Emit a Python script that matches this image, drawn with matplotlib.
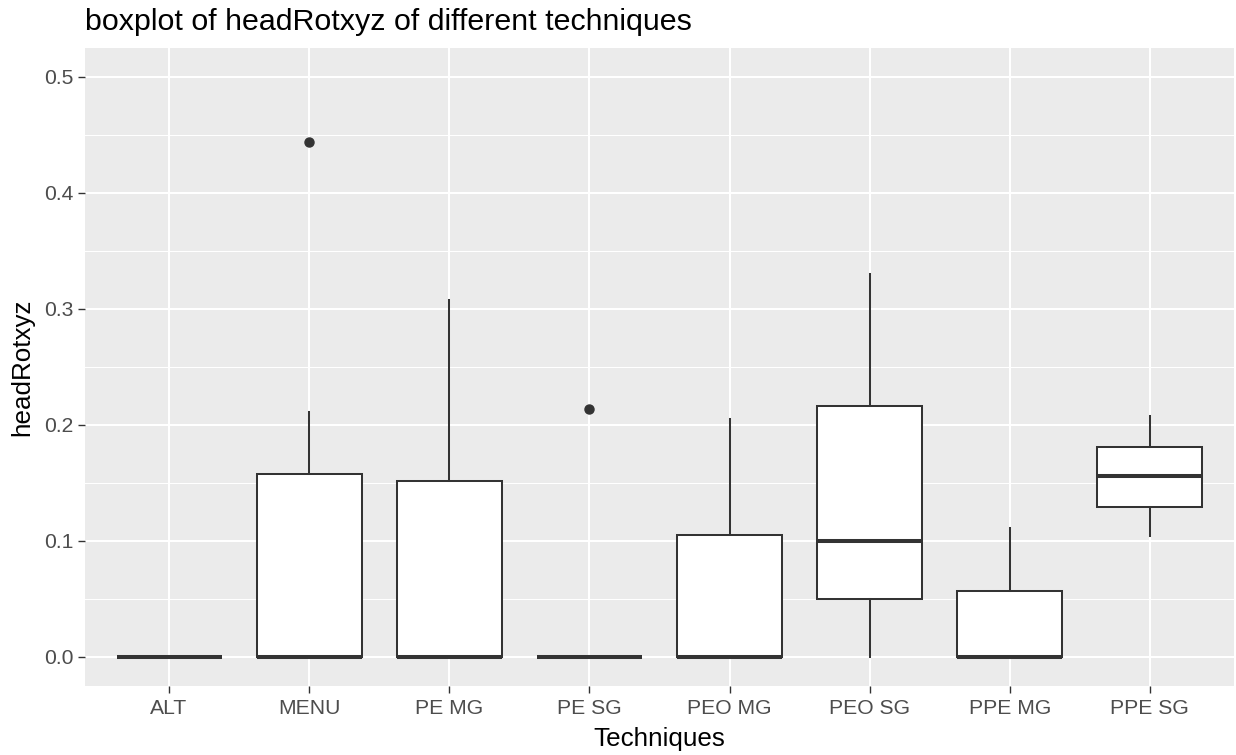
import matplotlib
matplotlib.use("Agg")
import matplotlib.pyplot as plt
from matplotlib.ticker import MultipleLocator

plt.rcParams['font.family'] = ['Liberation Sans', 'DejaVu Sans']

# Five-number summaries per technique (headRotxyz)
techniques = ["ALT", "MENU", "PE MG", "PE SG", "PEO MG", "PEO SG", "PPE MG", "PPE SG"]
whisker_low = [0.0, 0.0, 0.0, 0.0, 0.0, 0.0, 0.0, 0.104]
q1 = [0.0, 0.0, 0.0, 0.0, 0.0, 0.050, 0.0, 0.129]
median = [0.0, 0.0, 0.0, 0.0, 0.0, 0.100, 0.0, 0.156]
q3 = [0.0, 0.158, 0.152, 0.0, 0.105, 0.216, 0.057, 0.181]
whisker_high = [0.0, 0.211, 0.308, 0.0, 0.205, 0.330, 0.111, 0.208]
outliers = [[], [0.444], [], [0.214], [], [], [], []]

title = "boxplot of headRotxyz of different techniques"
x_label = "Techniques"
y_label = "headRotxyz"

stats = [
    dict(label=t, whislo=lo, q1=a, med=m, q3=b, whishi=hi, fliers=f)
    for t, lo, a, m, b, hi, f in zip(techniques, whisker_low, q1, median, q3, whisker_high, outliers)
]

W, H = 1236, 755
fig = plt.figure(figsize=(W / 100, H / 100), dpi=100)
ax = fig.add_axes([85 / W, 69 / H, (1234 - 85) / W, (686 - 48) / H])

dark = "#333333"
positions = list(range(1, len(techniques) + 1))
ax.bxp(
    stats, positions=positions, widths=0.75, patch_artist=True,
    showcaps=False,
    boxprops=dict(facecolor="white", edgecolor=dark, linewidth=1.45),
    medianprops=dict(color=dark, linewidth=2.9, solid_capstyle="butt"),
    whiskerprops=dict(color=dark, linewidth=1.45),
    flierprops=dict(marker="o", markerfacecolor=dark, markeredgecolor=dark, markersize=6.5),
    zorder=3,
)

ax.set_facecolor("#EBEBEB")
ax.set_xlim(0.4, len(techniques) + 0.6)
ax.set_ylim(-0.025, 0.525)
ax.yaxis.set_minor_locator(MultipleLocator(0.05))
ax.set_yticks([0.0, 0.1, 0.2, 0.3, 0.4, 0.5])
ax.set_yticklabels(["0.0", "0.1", "0.2", "0.3", "0.4", "0.5"])
ax.set_xticks(positions)
ax.set_xticklabels(techniques)

ax.grid(which="major", color="white", linewidth=1.45, zorder=0)
ax.grid(which="minor", axis="y", color="white", linewidth=0.75, zorder=0)
ax.set_axisbelow(True)
for s in ax.spines.values():
    s.set_visible(False)

ax.tick_params(axis="both", which="major", length=5, width=1.0, color=dark,
               labelcolor="#4D4D4D", labelsize=15.2)
ax.tick_params(axis="x", which="major", pad=4.5)
ax.tick_params(axis="y", which="major", pad=3.4)
ax.tick_params(axis="y", which="minor", length=0)

ax.set_xlabel(x_label, fontsize=18.7, color="black", va="baseline")
ax.xaxis.set_label_coords(659.5 / W, 9 / H, transform=fig.transFigure)
ax.set_ylabel(y_label, fontsize=18.7, color="black")
ax.yaxis.set_label_coords(34.5 / W, 1 - 367 / H, transform=fig.transFigure)
fig.text(85 / W, 1 - 29.5 / H, title, fontsize=21.9, color="black", ha="left", va="baseline")

fig.savefig("out.png", dpi=100, facecolor="white")
